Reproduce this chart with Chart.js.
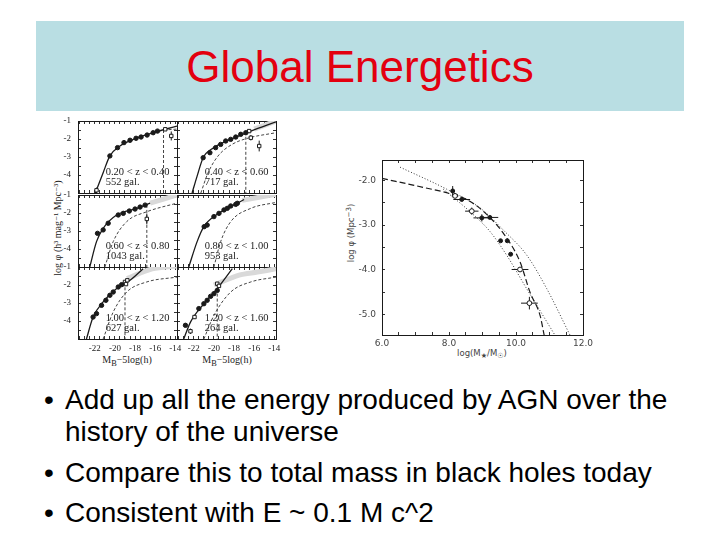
<!DOCTYPE html>
<html>
<head>
<meta charset="utf-8">
<title>Global Energetics</title>
<script src="https://cdn.jsdelivr.net/npm/chart.js@4.4.1/dist/chart.umd.min.js"></script>
<style>
  html, body { margin: 0; padding: 0; background: #fff; }
  #slide { position: relative; width: 720px; height: 540px; overflow: hidden; font-family: 'Liberation Sans', Arial, sans-serif; }
  #title { position: absolute; left: 36px; top: 21px; width: 648px; height: 90px; background: #b9dee3; color: #e3000f; font-size: 44px; line-height: 92px; text-align: center; }
  canvas { position: absolute; }
  .lbl { position: absolute; color: #222; white-space: nowrap; }
  .serif { font-family: 'Liberation Serif', 'DejaVu Serif', serif; font-size: 10px; }
  .sans { font-family: 'DejaVu Sans', sans-serif; font-size: 8.5px; color: #444; }
  .rot { transform: translate(-50%, -50%) rotate(-90deg); }
  .ctr { transform: translate(-50%, -50%); }
  .bullet { position: absolute; left: 0; width: 720px; font-size: 28px; line-height: 32px; color: #000; }
  .bullet .dot { position: absolute; left: 44px; top: 0; }
  .bullet .txt { position: absolute; left: 65px; top: 0; white-space: nowrap; }
</style>
</head>
<body>
<div id="slide">
  <div id="title">Global Energetics</div>

  <div class="lbl serif rot" style="left:57px; top:228px;">log φ (h³ mag⁻¹ Mpc⁻³)</div>
  <div class="lbl serif ctr" style="left:127px; top:361px;">M<sub>B</sub>−5log(h)</div>
  <div class="lbl serif ctr" style="left:227px; top:361px;">M<sub>B</sub>−5log(h)</div>

  <div class="lbl sans rot" style="left:350px; top:233px;">log φ (Mpc<sup>−3</sup>)</div>
  <div class="lbl sans ctr" style="left:482px; top:354px;">log(M<sub>★</sub>/M<sub>☉</sub>)</div>

  <div class="bullet" style="top:384px;"><span class="dot">•</span><span class="txt">Add up all the energy produced by AGN over the<br>history of the universe</span></div>
  <div class="bullet" style="top:457px;"><span class="dot">•</span><span class="txt">Compare this to total mass in black holes today</span></div>
  <div class="bullet" style="top:497px;"><span class="dot">•</span><span class="txt">Consistent with E ~ 0.1 M c^2</span></div>
</div>

<script>
// ---- left figure: luminosity functions in six redshift bins ----
const zBins = ['0.20 < z < 0.40', '0.40 < z < 0.60', '0.60 < z < 0.80', '0.80 < z < 1.00', '1.00 < z < 1.20', '1.20 < z < 1.60'];
const galCounts = ['552 gal.', '717 gal.', '1043 gal.', '953 gal.', '627 gal.', '264 gal.'];
const magLabels = [-22, -20, -18, -16, -14];
const phiLabels = [-4, -3, -2, -1];

// points, open points (+ error), fit, second fit, grey band, completeness limit [x, top]
const p1Points = [[-20.5, -2.94], [-19.74, -2.48], [-19.1, -2.2], [-18.5, -2.07], [-17.9, -1.96], [-17.4, -1.89], [-16.8, -1.78], [-16.2, -1.65], [-15.77, -1.56]];
const p1Open = [[-21.83, -4.85], [-15.0, -1.46], [-14.4, -1.83]];
const p1OpenErr = [0.15, 0.08, 0.25];
const p1Fit = [[-21.95, -5], [-21.17, -3.87], [-20.5, -2.94], [-19.5, -2.39], [-18.17, -2.02], [-16.5, -1.7], [-13.83, -1.28]];
const p1Fit2 = [[-15.17, -1.5], [-13.83, -1.45]];
const p1Band = [];
const p1Limit = [-15.17, -1.5];

const p2Points = [[-21.07, -3.04], [-20.4, -2.76], [-19.83, -2.48], [-19.33, -2.3], [-18.83, -2.11], [-18.33, -2.02], [-17.83, -1.89], [-17.33, -1.74], [-16.83, -1.65]];
const p2Open = [[-16.5, -1.56], [-16.33, -1.93], [-15.5, -2.39]];
const p2OpenErr = [0.05, 0.15, 0.3];
const p2Fit = [[-22.17, -5], [-21.67, -4.06], [-21.07, -3.04], [-20.0, -2.48], [-18.33, -2.02], [-16.33, -1.56], [-13.83, -1.05]];
const p2Fit2 = [[-21.3, -5], [-20.6, -3.9], [-19.6, -2.95], [-18.2, -2.3], [-16.6, -1.95], [-13.83, -1.65]];
const p2Band = [[-16.0, -1.45], [-13.83, -1.0]];
const p2Limit = [-16.83, -1.6];

const p3Points = [[-21.73, -3.13], [-21.17, -2.94], [-20.67, -2.57], [-19.67, -2.11], [-19.17, -2.02], [-18.57, -1.89], [-18.0, -1.78], [-17.5, -1.67], [-17.0, -1.56]];
const p3Open = [[-16.83, -2.33]];
const p3OpenErr = [0.3];
const p3Fit = [[-22.5, -5], [-21.83, -3.59], [-21.17, -2.85], [-19.83, -2.11], [-17.83, -1.74], [-16.5, -1.45]];
const p3Fit2 = [[-21.0, -5], [-20.17, -3.59], [-18.83, -2.48], [-16.83, -1.93], [-13.83, -1.45]];
const p3Band = [[-16.5, -1.45], [-13.83, -1.0]];
const p3Limit = [-16.83, -1.55];

const p4Points = [[-20.97, -2.76], [-20.67, -2.67], [-20.0, -2.2], [-19.5, -2.02], [-19.0, -1.83], [-18.67, -1.74], [-18.33, -1.61], [-17.83, -1.52], [-17.67, -1.46]];
const p4Open = [];
const p4OpenErr = [];
const p4Fit = [[-22.5, -5], [-21.67, -3.59], [-21.0, -2.76], [-19.67, -2.07], [-17.67, -1.46], [-17.0, -1.25]];
const p4Fit2 = [[-20.0, -5], [-19.33, -3.59], [-18.33, -2.48], [-16.33, -1.74], [-13.83, -1.41]];
const p4Band = [[-17.2, -1.3], [-13.83, -0.95]];
const p4Limit = [];

const p5Points = [[-22.17, -3.78], [-21.83, -3.59], [-21.33, -3.13], [-20.9, -2.85], [-20.5, -2.57], [-20.17, -2.39], [-19.67, -2.11], [-19.33, -1.98]];
const p5Open = [[-19.0, -1.83], [-18.77, -1.74], [-18.9, -1.95]];
const p5OpenErr = [0.05, 0.05, 0.08];
const p5Fit = [[-22.83, -5], [-22.17, -3.78], [-21.17, -2.94], [-19.83, -2.2], [-18.5, -1.74], [-17.2, -1.1]];
const p5Fit2 = [[-21.17, -5], [-20.17, -3.5], [-18.83, -2.39], [-16.83, -1.83], [-13.83, -1.56]];
const p5Band = [[-18.8, -1.65], [-16.3, -1.1], [-13.83, -0.95]];
const p5Limit = [-19.0, -1.85];

const p6Points = [[-22.83, -4.24], [-21.5, -3.31], [-21.0, -3.04], [-20.67, -2.85], [-20.33, -2.63], [-20.0, -2.48], [-19.67, -2.3]];
const p6Open = [[-22.33, -4.57], [-21.93, -3.78], [-19.67, -1.93], [-19.5, -2.05]];
const p6OpenErr = [0.15, 0.1, 0.08, 0.08];
const p6Fit = [[-23.0, -5], [-22.33, -4.06], [-21.0, -3.04], [-19.67, -2.2], [-18.17, -1.09]];
const p6Fit2 = [[-21.0, -5], [-20.0, -3.69], [-18.33, -2.39], [-16.33, -1.83], [-13.83, -1.56]];
const p6Band = [[-20.0, -2.0], [-17.5, -1.45], [-15.67, -1.28], [-13.83, -1.1]];
const p6Limit = [-19.67, -2.2];

// ---- right figure: mass function ----
const massLabels = [6, 8, 10, 12];
const rPhiLabels = [-2, -3, -4, -5];
const rPoints = [[8.11, -2.24], [8.38, -2.43], [8.98, -2.84], [9.22, -2.83], [9.54, -3.35], [9.74, -3.35], [9.84, -3.65]];
const rPointsXErr = [0.05, 0.25, 0.25, 0.25, 0, 0, 0];
const rPointsYErr = [0.11, 0, 0.08, 0, 0, 0, 0];
const rOpen = [[8.18, -2.35], [8.68, -2.69], [10.12, -3.99], [10.4, -4.74]];
const rOpenXErr = [0.1, 0.2, 0.25, 0.25];
const rOpenYErr = [0.05, 0.08, 0, 0.14];
const rDashed = [[6.0, -1.96], [7.23, -2.16], [8.03, -2.3], [8.53, -2.43], [9.02, -2.69], [9.62, -3.18], [10.12, -3.82], [10.42, -4.5], [10.72, -5.02], [10.84, -5.45]];
const rDottedA = [[6.54, -1.71], [7.93, -2.2], [8.93, -2.62], [9.62, -3.11], [10.32, -3.67], [10.92, -4.42], [11.61, -5.45]];
const rDottedB = [[7.83, -2.2], [8.73, -2.77], [9.22, -3.14], [9.72, -3.67], [10.32, -4.42], [11.16, -5.45]];

const panels = [
  { points: p1Points, open: p1Open, openErr: p1OpenErr, fit: p1Fit, fit2: p1Fit2, band: p1Band, limit: p1Limit },
  { points: p2Points, open: p2Open, openErr: p2OpenErr, fit: p2Fit, fit2: p2Fit2, band: p2Band, limit: p2Limit },
  { points: p3Points, open: p3Open, openErr: p3OpenErr, fit: p3Fit, fit2: p3Fit2, band: p3Band, limit: p3Limit },
  { points: p4Points, open: p4Open, openErr: p4OpenErr, fit: p4Fit, fit2: p4Fit2, band: p4Band, limit: p4Limit },
  { points: p5Points, open: p5Open, openErr: p5OpenErr, fit: p5Fit, fit2: p5Fit2, band: p5Band, limit: p5Limit },
  { points: p6Points, open: p6Open, openErr: p6OpenErr, fit: p6Fit, fit2: p6Fit2, band: p6Band, limit: p6Limit },
];

const ink = '#1a1a1a';
const toXY = (arr) => arr.map((p) => ({ x: p[0], y: p[1] }));

// segments separated by null gaps
function errorBars(pts, errs, dir) {
  const out = [];
  pts.forEach((p, i) => {
    const e = errs[i];
    if (!e) return;
    if (dir === 'y') out.push({ x: p[0], y: p[1] - e }, { x: p[0], y: p[1] + e });
    else out.push({ x: p[0] - e, y: p[1] }, { x: p[0] + e, y: p[1] });
    out.push({ x: p[0], y: null });
  });
  return out;
}

function lineSet(data, extra) {
  return Object.assign({ data, showLine: true, pointRadius: 0, borderColor: ink, borderWidth: 1, fill: false, spanGaps: false }, extra);
}

function pointSet(data, extra) {
  return Object.assign({ data, showLine: false, pointRadius: 2.2, pointBackgroundColor: ink, pointBorderColor: ink, pointBorderWidth: 1 }, extra);
}

// axis with inward ticks and a fixed size, so the plot area lands where we want it
function axis(pos, min, max, step, size, opts) {
  return {
    type: 'linear', position: pos, min, max,
    grid: { drawOnChartArea: false, drawTicks: true, tickLength: -3, color: '#333', lineWidth: 1 },
    border: { display: true, color: ink, width: 1 },
    ticks: Object.assign({ stepSize: step, autoSkip: false, maxRotation: 0, includeBounds: false, display: false, color: '#222', padding: 8 }, opts),
    afterFit(s) {
      if (pos === 'left' || pos === 'right') s.width = size; else s.height = size;
      s.paddingTop = 0; s.paddingBottom = 0; s.paddingLeft = 0; s.paddingRight = 0;
    },
  };
}

function addCanvas(left, top, w, h) {
  const c = document.createElement('canvas');
  c.width = w; c.height = h;
  c.style.left = left + 'px'; c.style.top = top + 'px';
  c.style.width = w + 'px'; c.style.height = h + 'px';
  document.getElementById('slide').appendChild(c);
  return c;
}

// redshift-bin text inside each panel
const panelText = {
  id: 'panelText',
  afterDraw(chart, args, opts) {
    const { ctx, chartArea: a } = chart;
    ctx.save();
    ctx.font = '10.5px "Liberation Serif"';
    ctx.fillStyle = '#222';
    ctx.textBaseline = 'middle';
    opts.lines.forEach((t, i) => ctx.fillText(t, a.left + a.width * 0.28, a.top + a.height * (0.71 + i * 0.14)));
    ctx.restore();
  },
};

const colLeft = [78, 177];
const rowTop = [121, 195, 267];
const panelW = 99, panelH = 72;
const serifFont = { family: 'Liberation Serif', size: 9 };

function makePanel(idx) {
  const r = Math.floor(idx / 2), c = idx % 2;
  const d = panels[idx];
  const padL = c === 0 ? 26 : 2, padR = r === 2 ? 8 : 2, padT = c === 0 ? 6 : 2, padB = r === 2 ? 14 : 2;
  const canvas = addCanvas(colLeft[c] - padL, rowTop[r] - padT, panelW + padL + padR, panelH + padT + padB);

  const datasets = [
    pointSet(toXY(d.points)),
    pointSet(toXY(d.open), { pointStyle: 'rect', pointRadius: 2.4, pointBackgroundColor: '#fff' }),
    lineSet(errorBars(d.open, d.openErr, 'y')),
    lineSet(toXY(d.fit), { borderWidth: 1.3, tension: 0.4, cubicInterpolationMode: 'monotone' }),
    lineSet(toXY(d.fit2), { borderDash: [3, 2], borderColor: '#444', tension: 0.4, cubicInterpolationMode: 'monotone' }),
    lineSet(d.limit.length ? [{ x: d.limit[0], y: d.limit[1] }, { x: d.limit[0], y: -5 }] : [], { borderDash: [3, 2], borderColor: '#444' }),
    lineSet(toXY(d.band), { borderColor: '#d9d9d9', borderWidth: 5, tension: 0.3 }),
  ];

  new Chart(canvas, {
    type: 'line',
    data: { datasets },
    options: {
      responsive: false,
      animation: false,
      events: [],
      layout: { padding: 0, autoPadding: false },
      plugins: { legend: { display: false }, tooltip: { enabled: false }, panelText: { lines: [zBins[idx], galCounts[idx]] } },
      scales: {
        x: axis('bottom', -23.67, -13.83, 0.5, padB, {
          display: r === 2, font: serifFont, padding: 7,
          callback: (v) => (magLabels.includes(v) ? String(v) : ''),
        }),
        x2: axis('top', -23.67, -13.83, 0.5, padT),
        y: axis('left', -5, -1, 0.5, padL, {
          display: c === 0, font: serifFont, padding: 10,
          callback: (v) => (phiLabels.includes(v) ? String(v) : ''),
        }),
        y2: axis('right', -5, -1, 0.5, padR),
      },
    },
    plugins: [panelText],
  });
}

function makeMassChart() {
  const left = 382, top = 160, w = 201, h = 175;
  const padL = 40, padR = 14, padT = 4, padB = 16;
  const canvas = addCanvas(left - padL, top - padT, w + padL + padR, h + padT + padB);
  const sansFont = { family: 'DejaVu Sans', size: 9 };

  const datasets = [
    pointSet(toXY(rPoints), { pointRadius: 2 }),
    pointSet(toXY(rOpen), { pointRadius: 2.4, pointBackgroundColor: '#fff' }),
    lineSet(errorBars(rPoints, rPointsXErr, 'x')),
    lineSet(errorBars(rPoints, rPointsYErr, 'y')),
    lineSet(errorBars(rOpen, rOpenXErr, 'x')),
    lineSet(errorBars(rOpen, rOpenYErr, 'y')),
    lineSet(toXY(rDashed), { borderDash: [6, 3], borderWidth: 1.2, tension: 0.4, cubicInterpolationMode: 'monotone' }),
    lineSet(toXY(rDottedA), { borderDash: [1, 2], borderColor: '#333', tension: 0.4, cubicInterpolationMode: 'monotone' }),
    lineSet(toXY(rDottedB), { borderDash: [1, 2], borderColor: '#333', tension: 0.4, cubicInterpolationMode: 'monotone' }),
  ];

  new Chart(canvas, {
    type: 'line',
    data: { datasets },
    options: {
      responsive: false,
      animation: false,
      events: [],
      layout: { padding: 0, autoPadding: false },
      plugins: { legend: { display: false }, tooltip: { enabled: false } },
      scales: {
        x: axis('bottom', 6, 12, 0.5, padB, {
          display: true, font: sansFont, color: '#444', padding: 6,
          callback: (v) => (massLabels.includes(v) ? v.toFixed(1) : ''),
        }),
        x2: axis('top', 6, 12, 0.5, padT),
        y: axis('left', -5.45, -1.55, 0.5, padL, {
          display: true, font: sansFont, color: '#444', padding: 9,
          callback: (v) => (rPhiLabels.includes(v) ? v.toFixed(1) : ''),
        }),
        y2: axis('right', -5.45, -1.55, 0.5, padR),
      },
    },
  });
}

document.addEventListener('DOMContentLoaded', function () {
  panels.forEach((p, i) => makePanel(i));
  makeMassChart();
});
</script>
</body>
</html>
